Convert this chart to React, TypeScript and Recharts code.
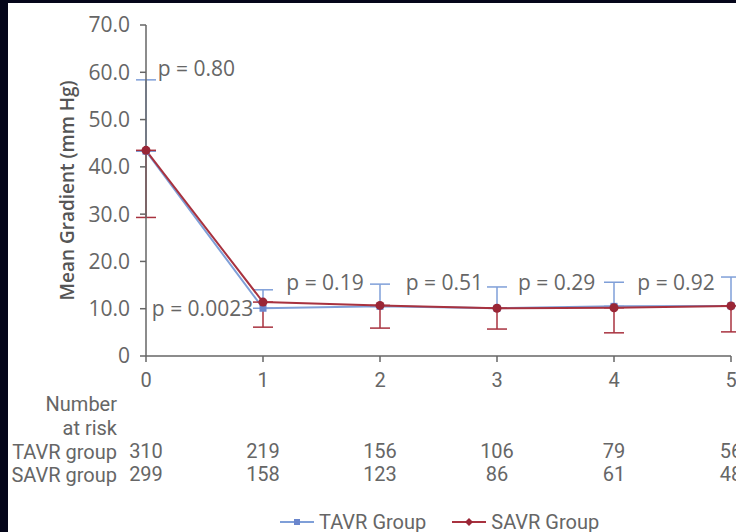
import { ErrorBar, Line, LineChart, ReferenceDot, XAxis, YAxis } from "recharts";

const YEARS = [0, 1, 2, 3, 4, 5];
const TAVR_MEAN = [43.3, 10.1, 10.5, 10.1, 10.5, 10.6];
const TAVR_SD = [15.1, 3.9, 4.7, 4.5, 5.1, 6.1];
const SAVR_MEAN = [43.5, 11.4, 10.7, 10.1, 10.2, 10.6];
const SAVR_SD = [14.2, 5.3, 4.8, 4.4, 5.3, 5.5];
const TAVR_RISK = [310, 219, 156, 106, 79, 56];
const SAVR_RISK = [299, 158, 123, 86, 61, 48];
const Y_TICKS = [0, 10, 20, 30, 40, 50, 60, 70];

const P_TEXT = ["p = 0.80", "p = 0.0023", "p = 0.19", "p = 0.51", "p = 0.29", "p = 0.92"];
const P_X = [0.1, 0.05, 1.53, 2.55, 3.51, 4.53];
const P_Y = [60.9, 10.1, 15.7, 15.7, 15.7, 15.7];
const P_ANCHOR = ["start", "start", "middle", "middle", "middle", "middle"];

const BLUE = "#7f9fd8";
const BLUE_DOT = "#6a86cc";
const RED = "#a8323f";
const RED_DOT = "#9a2636";
const GREY = "#666";
const AXIS = "#666";

const data = YEARS.map((year, i) => ({
  year,
  tavr: TAVR_MEAN[i],
  tavrErr: [0, TAVR_SD[i]],
  savr: SAVR_MEAN[i],
  savrErr: [SAVR_SD[i], 0],
}));

const tickFont = { fill: GREY, fontSize: 20, fontFamily: "Roboto" };
const labelFont = { fill: GREY, fontSize: 20, fontFamily: "Roboto" };

function YTitle(props: any) {
  const vb = props.viewBox || {};
  const x = (vb.x ?? 0) + 59;
  const y = (vb.y ?? 0) + (vb.height ?? 0) / 2;
  return (
    <text
      x={x}
      y={y}
      transform={`rotate(-90, ${x}, ${y})`}
      textAnchor="middle"
      dominantBaseline="central"
      fill="#555"
      fontSize={19}
      fontWeight={600}
      fontFamily="Open Sans"
    >
      Mean Gradient (mm Hg)
    </text>
  );
}

function PLabel({ viewBox, text, anchor }: any) {
  const x = viewBox?.x ?? 0;
  const y = viewBox?.y ?? 0;
  return (
    <text
      x={x}
      y={y}
      textAnchor={anchor}
      dominantBaseline="central"
      fill={GREY}
      fontSize={21}
      fontFamily="Open Sans"
    >
      {text}
    </text>
  );
}

function LegendItem({ color, label, square }: { color: string; label: string; square: boolean }) {
  return (
    <span style={{ display: "inline-flex", alignItems: "center", gap: 5 }}>
      <svg width={34} height={12}>
        <line x1={0} y1={6} x2={34} y2={6} stroke={color} strokeWidth={2} />
        {square ? (
          <rect x={14} y={3} width={6} height={6} fill={BLUE_DOT} />
        ) : (
          <polygon points="17,2 21,6 17,10 13,6" fill={RED_DOT} />
        )}
      </svg>
      {label}
    </span>
  );
}

export default function App() {
  return (
    <div style={{ position: "fixed", left: 0, top: 0, width: 736, height: 532, background: "#05061a" }}>
      <div
        style={{
          position: "absolute",
          left: 8,
          top: 3,
          width: 728,
          height: 529,
          background: "#fff",
          overflow: "hidden",
        }}
      >
        <LineChart width={780} height={529} data={data} margin={{ top: 22, right: 57, bottom: 46, left: 0 }}>
          <XAxis
            dataKey="year"
            type="number"
            domain={[0, 5]}
            ticks={YEARS}
            height={36}
            stroke={AXIS}
            strokeWidth={1.5}
            tickSize={6}
            tickMargin={11}
            tick={tickFont}
          />
          <XAxis
            xAxisId="a_num"
            dataKey="year"
            type="number"
            domain={[0, 5]}
            ticks={YEARS}
            height={23}
            axisLine={false}
            tickLine={false}
            tick={false}
            label={{ value: "Number", position: "left", offset: 29, ...labelFont }}
          />
          <XAxis
            xAxisId="b_risk"
            dataKey="year"
            type="number"
            domain={[0, 5]}
            ticks={YEARS}
            height={25}
            axisLine={false}
            tickLine={false}
            tick={false}
            label={{ value: "at risk", position: "left", offset: 29, ...labelFont }}
          />
          <XAxis
            xAxisId="c_tavr"
            dataKey="year"
            type="number"
            domain={[0, 5]}
            ticks={YEARS}
            height={23}
            axisLine={false}
            tickLine={false}
            tickSize={0}
            tickMargin={4}
            tick={tickFont}
            tickFormatter={(v: number) => String(TAVR_RISK[v])}
            label={{ value: "TAVR group", position: "left", offset: 29, ...labelFont }}
          />
          <XAxis
            xAxisId="d_savr"
            dataKey="year"
            type="number"
            domain={[0, 5]}
            ticks={YEARS}
            height={23}
            axisLine={false}
            tickLine={false}
            tickSize={0}
            tickMargin={4}
            tick={tickFont}
            tickFormatter={(v: number) => String(SAVR_RISK[v])}
            label={{ value: "SAVR group", position: "left", offset: 29, ...labelFont }}
          />
          <YAxis
            type="number"
            domain={[0, 70]}
            ticks={Y_TICKS}
            width={138}
            stroke={AXIS}
            strokeWidth={1.5}
            tickSize={6}
            tickMargin={10}
            tick={{ fill: GREY, fontSize: 21, fontFamily: "Open Sans" }}
            tickFormatter={(v: number) => (v === 0 ? "0" : v.toFixed(1))}
            label={{ content: YTitle }}
          />
          <Line
            dataKey="tavr"
            stroke={BLUE}
            strokeWidth={2}
            isAnimationActive={false}
            dot={(p: any) => (
              <rect key={`t${p.index}`} x={p.cx - 3.5} y={p.cy - 3.5} width={7} height={7} fill={BLUE_DOT} />
            )}
          >
            <ErrorBar dataKey="tavrErr" direction="y" width={10} stroke={BLUE} strokeWidth={1.5} isAnimationActive={false} />
          </Line>
          <Line
            dataKey="savr"
            stroke={RED}
            strokeWidth={2}
            isAnimationActive={false}
            dot={{ r: 4.5, fill: RED_DOT, stroke: "none" }}
          >
            <ErrorBar dataKey="savrErr" direction="y" width={10} stroke={RED} strokeWidth={1.5} isAnimationActive={false} />
          </Line>
          {P_TEXT.map((t, i) => (
            <ReferenceDot
              key={t}
              x={P_X[i]}
              y={P_Y[i]}
              r={0}
              fill="none"
              stroke="none"
              label={(props: any) => <PLabel {...props} text={t} anchor={P_ANCHOR[i]} />}
            />
          ))}
        </LineChart>
        <div
          style={{
            position: "absolute",
            left: 272,
            top: 509,
            height: 20,
            lineHeight: "20px",
            display: "flex",
            alignItems: "center",
            gap: 26,
            color: GREY,
            fontSize: 20,
            fontFamily: "Roboto",
          }}
        >
          <LegendItem color={BLUE} label="TAVR Group" square />
          <LegendItem color={RED} label="SAVR Group" square={false} />
        </div>
      </div>
    </div>
  );
}
